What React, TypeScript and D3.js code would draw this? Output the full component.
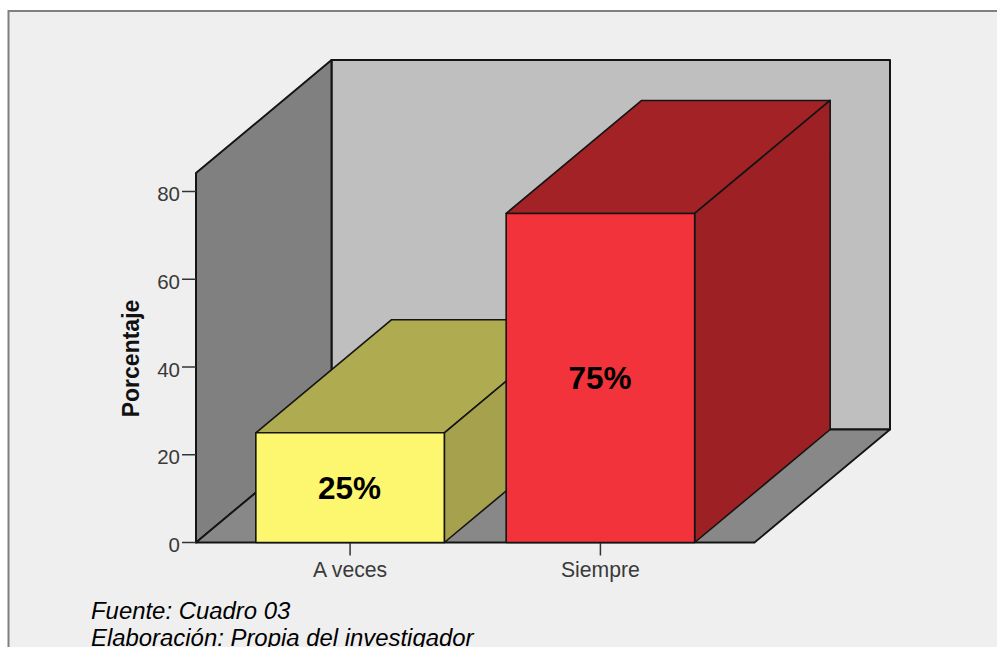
import React from "react";
import * as d3 from "d3";

// Survey shares per answer, in percent
const categories = ["A veces", "Siempre"];
const percentages = [25, 75];
const valueLabels = ["25%", "75%"];
const yTicks = [0, 20, 40, 60, 80];
const yMax = 84.2;
const yTitle = "Porcentaje";
const notes = ["Fuente: Cuadro 03", "Elaboración: Propia del investigador"];

const frontColors = ["#fcf76f", "#f2333b"];
const topColors = ["#afab50", "#a32226"];
const sideColors = ["#a5a14c", "#9c2024"];

const WIDTH = 997;
const HEIGHT = 647;
const LINE = "#141414";
const FONT = "'Liberation Sans', Arial, sans-serif";

// Oblique offset of the chart box's depth axis
const DX = 135.5;
const DY = -113;

const y = d3.scaleLinear().domain([0, 80]).range([542.5, 191.5]);
const x = d3
  .scaleBand<string>()
  .domain(categories)
  .range([196, 754.5])
  .paddingInner(0.247)
  .paddingOuter(0.239);

const poly = d3.line<[number, number]>().curve(d3.curveLinearClosed);

function Face({ pts, fill, weight = 1.6 }: { pts: [number, number][]; fill: string; weight?: number }) {
  return <path d={poly(pts) ?? ""} fill={fill} stroke={LINE} strokeWidth={weight} strokeLinejoin="round" />;
}

export default function App() {
  const x0 = x.range()[0];
  const x1 = x.range()[1];
  const y0 = y(0);
  const yTop = y(yMax);

  return (
    <svg
      width={WIDTH}
      height={HEIGHT}
      viewBox={`0 0 ${WIDTH} ${HEIGHT}`}
      style={{ position: "absolute", left: 0, top: 0, display: "block" }}
    >
      <rect width={WIDTH} height={HEIGHT} fill="#ffffff" />
      <rect x={8.5} y={11} width={WIDTH} height={HEIGHT} fill="#efefef" stroke="#808080" strokeWidth={2} />

      {/* Chart box: back wall, left wall, floor */}
      <Face
        pts={[
          [x0 + DX, yTop + DY],
          [x1 + DX, yTop + DY],
          [x1 + DX, y0 + DY],
          [x0 + DX, y0 + DY],
        ]}
        fill="#bfbfbf"
        weight={2}
      />
      <Face
        pts={[
          [x0, yTop],
          [x0 + DX, yTop + DY],
          [x0 + DX, y0 + DY],
          [x0, y0],
        ]}
        fill="#808080"
        weight={2}
      />
      <Face
        pts={[
          [x0, y0],
          [x0 + DX, y0 + DY],
          [x1 + DX, y0 + DY],
          [x1, y0],
        ]}
        fill="#888888"
        weight={1.8}
      />

      {/* Value axis */}
      {yTicks.map((t) => (
        <g key={t}>
          <line x1={x0 - 14} x2={x0} y1={y(t)} y2={y(t)} stroke="#333333" strokeWidth={1.5} />
          <text
            x={x0 - 16}
            y={y(t) + 9.5}
            textAnchor="end"
            fontFamily={FONT}
            fontSize={20.5}
            fill="#3a3a3a"
          >
            {t}
          </text>
        </g>
      ))}
      <text
        transform={`translate(139,${y(40) - 8.5}) rotate(-90)`}
        textAnchor="middle"
        fontFamily={FONT}
        fontSize={23}
        fontWeight="bold"
        fill="#111111"
      >
        {yTitle}
      </text>

      {/* Category ticks and labels */}
      {categories.map((c) => {
        const cx = (x(c) ?? 0) + x.bandwidth() / 2;
        return (
          <g key={c}>
            <line x1={cx} x2={cx} y1={y0} y2={y0 + 13} stroke="#333333" strokeWidth={1.5} />
            <text x={cx} y={y0 + 34} textAnchor="middle" fontFamily={FONT} fontSize={21.2} fill="#3a3a3a">
              {c}
            </text>
          </g>
        );
      })}

      {/* Bars, drawn as three visible faces */}
      {categories.map((c, i) => {
        const left = x(c) ?? 0;
        const right = left + x.bandwidth();
        const top = y(percentages[i]);
        return (
          <g key={c}>
            <Face
              pts={[
                [left, top],
                [left + DX, top + DY],
                [right + DX, top + DY],
                [right, top],
              ]}
              fill={topColors[i]}
            />
            <Face
              pts={[
                [right, top],
                [right + DX, top + DY],
                [right + DX, y0 + DY],
                [right, y0],
              ]}
              fill={sideColors[i]}
            />
            <Face
              pts={[
                [left, top],
                [right, top],
                [right, y0],
                [left, y0],
              ]}
              fill={frontColors[i]}
            />
            <text
              x={(left + right) / 2 - 0.5}
              y={(top + y0) / 2 + 11.5}
              textAnchor="middle"
              fontFamily={FONT}
              fontSize={31.5}
              fontWeight="bold"
              fill="#000000"
            >
              {valueLabels[i]}
            </text>
          </g>
        );
      })}

      {/* Source notes; the second line runs into the page's lower edge */}
      {notes.map((n, i) => (
        <text key={n} x={91} y={619 + i * 27} fontFamily={FONT} fontSize={23.9} fontStyle="italic" fill="#000000">
          {n}
        </text>
      ))}
    </svg>
  );
}
